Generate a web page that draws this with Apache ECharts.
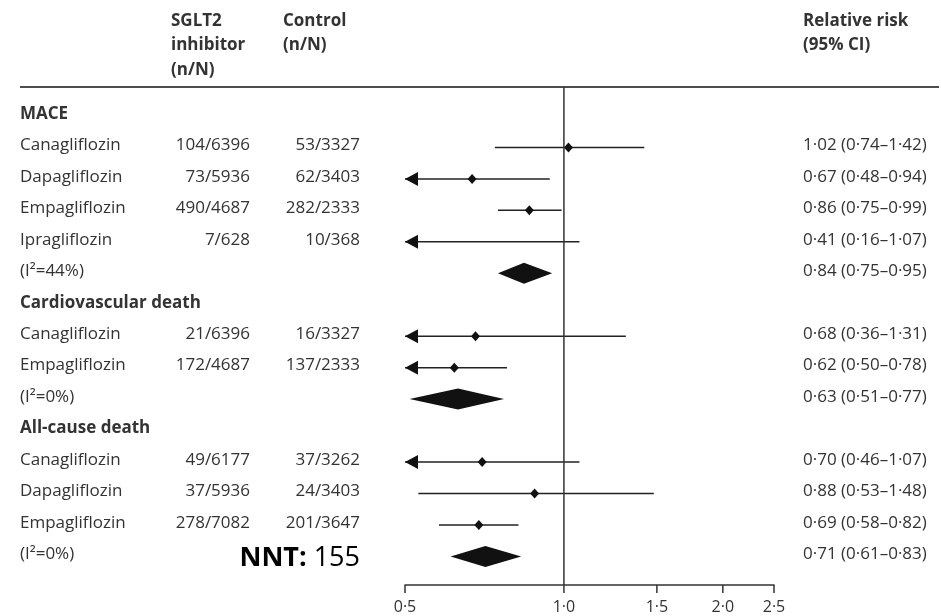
<!DOCTYPE html>
<html>
<head>
<meta charset="utf-8">
<script src="https://cdn.jsdelivr.net/npm/echarts@6/dist/echarts.min.js"></script>
<style>html,body{margin:0;padding:0;background:#fff;}#chart{width:941px;height:616px;}</style>
</head>
<body>
<div id="chart"></div>
<script>
// ---- data ----
const rowLabels = ['MACE','Canagliflozin','Dapagliflozin','Empagliflozin','Ipragliflozin','(I\u00b2=44%)',
  'Cardiovascular death','Canagliflozin','Empagliflozin','(I\u00b2=0%)',
  'All-cause death','Canagliflozin','Dapagliflozin','Empagliflozin','(I\u00b2=0%)'];
const rowKind = ['h','s','s','s','s','p','h','s','s','p','h','s','s','s','p'];
const sgltEvents = ['','104/6396','73/5936','490/4687','7/628','','','21/6396','172/4687','','','49/6177','37/5936','278/7082',''];
const controlEvents = ['','53/3327','62/3403','282/2333','10/368','','','16/3327','137/2333','','','37/3262','24/3403','201/3647',''];
const rrEst = [null,1.02,0.67,0.86,0.41,0.84,null,0.68,0.62,0.63,null,0.70,0.88,0.69,0.71];
const rrLow = [null,0.74,0.48,0.75,0.16,0.75,null,0.36,0.50,0.51,null,0.46,0.53,0.58,0.61];
const rrHigh = [null,1.42,0.94,0.99,1.07,0.95,null,1.31,0.78,0.77,null,1.07,1.48,0.82,0.83];
const tickValues = [0.5, 1.0, 1.5, 2.0, 2.5];
const tickLabels = ['0\u00b75','1\u00b70','1\u00b75','2\u00b70','2\u00b75'];
const headerSglt = ['SGLT2','inhibitor','(n/N)'];
const headerControl = ['Control','(n/N)'];
const headerRR = ['Relative risk','(95% CI)'];

// ---- layout ----
const FONT = '"Open Sans", sans-serif';
const FS = 17;
const TXT = '#333';
const X_MIN = 0.5, X_MAX = 2.5;
const Y_MIN = -0.922, Y_MAX = 14.91;
const fmt = v => v.toFixed(2).replace('.', '\u00b7');

const chart = echarts.init(document.getElementById('chart'));

const markData = [];
rowLabels.forEach((l, i) => { if (rrEst[i] !== null) markData.push([i, rrEst[i], rrLow[i], rrHigh[i]]); });

const graphics = [];
graphics.push({type:'line', shape:{x1:20, y1:87, x2:939, y2:87}, style:{stroke:'#4d4d4d', lineWidth:2}, silent:true});
headerSglt.forEach((t, k) => graphics.push({type:'text', x:171, y:21 + k*24.5, style:{text:t, font:'bold ' + FS + 'px ' + FONT, fill:TXT, textVerticalAlign:'middle'}}));
headerControl.forEach((t, k) => graphics.push({type:'text', x:283, y:21 + k*24.5, style:{text:t, font:'bold ' + FS + 'px ' + FONT, fill:TXT, textVerticalAlign:'middle'}}));
headerRR.forEach((t, k) => graphics.push({type:'text', x:803, y:21 + k*24.5, style:{text:t, font:'bold ' + FS + 'px ' + FONT, fill:TXT, textVerticalAlign:'middle'}}));
graphics.push({type:'text', x:360, y:558, style:{text:'{b|NNT:} 155', textAlign:'right', textVerticalAlign:'middle', fill:'#000', font:'27px ' + FONT,
  rich:{b:{fontWeight:'bold', fontSize:27, fontFamily:FONT, fill:'#000'}}}});

const option = {
  animation: false,
  backgroundColor: '#fff',
  grid: {left: 405, right: 167, top: 87, bottom: 31},
  xAxis: {
    type: 'log', logBase: 10, min: X_MIN, max: X_MAX,
    axisLine: {show: true, onZero: false, lineStyle: {color: '#333', width: 1.5}},
    axisTick: {show: false}, axisLabel: {show: false}, splitLine: {show: false}
  },
  yAxis: {type: 'value', inverse: true, min: Y_MIN, max: Y_MAX, show: false},
  graphic: graphics,
  series: [
    {
      type: 'line', data: [[1, Y_MIN], [1, Y_MAX]], showSymbol: false, silent: true,
      lineStyle: {color: '#333', width: 1.5}
    },
    {
      type: 'custom', data: markData, encode: {x: 1, y: 0}, clip: false,
      renderItem: function (params, api) {
        const row = api.value(0), est = api.value(1), lo = api.value(2), hi = api.value(3);
        const y = api.coord([1, row])[1];
        const xLo = api.coord([Math.max(lo, X_MIN), row])[0];
        const xHi = api.coord([Math.min(hi, X_MAX), row])[0];
        const xEst = api.coord([Math.max(est, X_MIN), row])[0];
        const col = '#222';
        const children = [];
        if (rowKind[row] === 'p') {
          children.push({type:'polygon', shape:{points:[[xLo,y],[xEst,y-10.5],[xHi,y],[xEst,y+10.5]]}, style:{fill:'#111'}});
        } else {
          children.push({type:'line', shape:{x1:xLo, y1:y, x2:xHi, y2:y}, style:{stroke:col, lineWidth:1.5}});
          if (lo <= X_MIN) {
            children.push({type:'polygon', shape:{points:[[xLo,y],[xLo+13,y-7],[xLo+13,y+7]]}, style:{fill:'#111'}});
          }
          if (est >= X_MIN) {
            children.push({type:'polygon', shape:{points:[[xEst-4.5,y],[xEst,y-5],[xEst+4.5,y],[xEst,y+5]]}, style:{fill:'#111'}});
          }
        }
        return {type:'group', children: children};
      }
    },
    {
      type: 'custom', data: rowLabels.map((l, i) => [1, i]), encode: {x: 0, y: 1}, clip: false, silent: true,
      renderItem: function (params, api) {
        const i = api.value(1);
        const y = api.coord([1, i])[1] - 2;
        const bold = rowKind[i] === 'h';
        const f = FS + 'px ' + FONT;
        const children = [
          {type:'text', x:20, y:y, style:{text:rowLabels[i], font:(bold ? 'bold ' : '') + f, fill:TXT, textVerticalAlign:'middle'}}
        ];
        if (sgltEvents[i]) children.push({type:'text', x:250, y:y, style:{text:sgltEvents[i], font:f, fill:TXT, textAlign:'right', textVerticalAlign:'middle'}});
        if (controlEvents[i]) children.push({type:'text', x:360, y:y, style:{text:controlEvents[i], font:f, fill:TXT, textAlign:'right', textVerticalAlign:'middle'}});
        if (rrEst[i] !== null) children.push({type:'text', x:803, y:y, style:{text:fmt(rrEst[i]) + ' (' + fmt(rrLow[i]) + '\u2013' + fmt(rrHigh[i]) + ')', font:f, fill:TXT, textVerticalAlign:'middle'}});
        return {type:'group', children: children};
      }
    },
    {
      type: 'custom', data: tickValues.map((v, k) => [v, k]), encode: {x: 0}, clip: false, silent: true,
      renderItem: function (params, api) {
        const v = api.value(0), k = api.value(1);
        const p = api.coord([v, Y_MAX]);
        return {type:'group', children:[
          {type:'line', shape:{x1:p[0], y1:p[1], x2:p[0], y2:p[1]+8}, style:{stroke:'#333', lineWidth:1.5}},
          {type:'text', x:p[0], y:p[1]+22, style:{text:tickLabels[k], font:'16px ' + FONT, fill:TXT, textAlign:'center', textVerticalAlign:'middle'}}
        ]};
      }
    }
  ]
};
chart.setOption(option);
</script>
</body>
</html>
